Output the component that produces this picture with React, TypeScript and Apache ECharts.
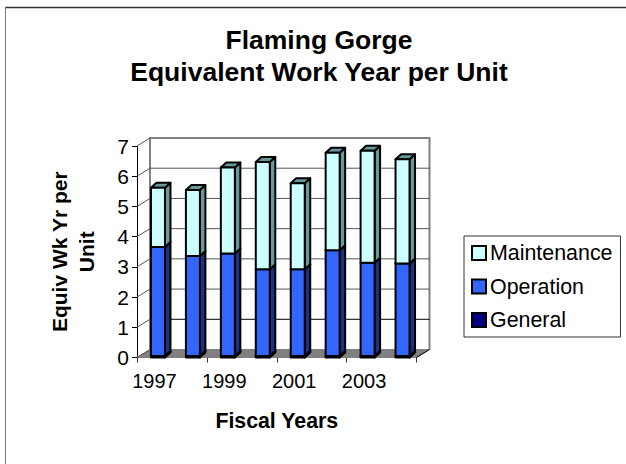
import React, { useEffect, useRef } from "react";
import * as echarts from "echarts";

const categories = ["1997", "1998", "1999", "2000", "2001", "2002", "2003", "2004"];
const general = [0.05, 0.05, 0.05, 0.05, 0.05, 0.05, 0.05, 0.05];
const operation = [3.61, 3.31, 3.39, 2.87, 2.87, 3.5, 3.09, 3.06];
const maintenance = [1.96, 2.18, 2.85, 3.55, 2.85, 3.23, 3.7, 3.45];
const yTicks = [0, 1, 2, 3, 4, 5, 6, 7];

const colors = {
  General: ["#000080", "#00004d", "#000066"],
  Operation: ["#3366FF", "#1a3380", "#1a3380"],
  Maintenance: ["#CCFFFF", "#669999", "#669999"],
};
const DX = 13, DY = -8, BAR_DX = 5.5, BAR_DY = -5;
const FONT = "'Liberation Sans', Arial, sans-serif";

function renderBar(params: any, api: any) {
  const cat = api.value(0), lo = api.value(1), hi = api.value(2);
  const c = api.value(3) as number;
  const pal = [colors.General, colors.Operation, colors.Maintenance][c];
  const [cx, y0] = api.coord([cat, lo]);
  const [, y1] = api.coord([cat, hi]);
  const w = 14;
  const x0 = cx - w / 2 + 3.5, x1 = x0 + w;
  const border = { stroke: "#000", lineWidth: 2, lineJoin: "round" };
  const poly = (pts: number[][], fill: string) => ({ type: "polygon", shape: { points: pts }, style: { fill, ...border } });
  return {
    type: "group",
    children: [
      poly([[x1, y0], [x1 + BAR_DX, y0 + BAR_DY], [x1 + BAR_DX, y1 + BAR_DY], [x1, y1]], pal[1]),
      poly([[x0, y1], [x1, y1], [x1 + BAR_DX, y1 + BAR_DY], [x0 + BAR_DX, y1 + BAR_DY]], pal[2]),
      poly([[x0, y0], [x1, y0], [x1, y1], [x0, y1]], pal[0]),
    ],
  };
}

function renderWall(params: any, api: any) {
  const [xc, y0] = api.coord([0, 0]);
  const [, y7] = api.coord([0, 7]);
  const size = api.size([1, 0]);
  const L = xc - size[0] / 2, R = L + size[0] * 8;
  const kids: any[] = [
    { type: "polygon", shape: { points: [[L, y0], [L + DX, y0 + DY], [R + DX, y0 + DY], [R, y0]] }, style: { fill: "#808080", stroke: "#808080", lineWidth: 1 } },
    { type: "polyline", shape: { points: [[L + DX, y0 + DY], [L + DX, y7 + DY], [R + DX, y7 + DY], [R + DX, y0 + DY]] }, style: { fill: "none", stroke: "#808080", lineWidth: 2 } },
    { type: "line", shape: { x1: R, y1: y0, x2: R + DX, y2: y0 + DY }, style: { stroke: "#000", lineWidth: 1 } },
  ];
  yTicks.forEach((t) => {
    const [, y] = api.coord([0, t]);
    if (t > 0 && t < 7) kids.push({ type: "line", shape: { x1: L + DX, y1: y + DY, x2: R + DX, y2: y + DY }, style: { stroke: t === 1 ? "#000" : "#555", lineWidth: 1 } });
    kids.push({ type: "line", shape: { x1: L, y1: y, x2: L + DX, y2: y + DY }, style: { stroke: "#555", lineWidth: 1 } });
  });
  return { type: "group", children: kids };
}

export default function App() {
  const ref = useRef<HTMLDivElement>(null);
  useEffect(() => {
    const chart = echarts.init(ref.current!, undefined, { renderer: "svg" });
    const barData: number[][] = [];
    categories.forEach((_, i) => {
      const a = general[i], b = a + operation[i], m = b + maintenance[i];
      barData.push([i, 0, a, 0], [i, a, b, 1], [i, b, m, 2]);
    });
    const swatch = (name: string) => ({ name, icon: "rect", itemStyle: { color: (colors as any)[name][0], borderColor: "#000", borderWidth: 2 } });
    chart.setOption({
      animation: false,
      backgroundColor: "#fff",
      title: {
        text: "Flaming Gorge\nEquivalent Work Year per Unit",
        left: 314, top: 19, textAlign: "center",
        textStyle: { fontFamily: FONT, fontSize: 26.5, fontWeight: "bold", color: "#000", lineHeight: 32 },
      },
      grid: { left: 137, top: 146, width: 279.5, height: 211.5 },
      xAxis: {
        type: "category", data: categories,
        axisLine: { lineStyle: { color: "#000" } },
        axisTick: { show: true, length: 5, lineStyle: { color: "#333" } },
        axisLabel: { color: "#000", fontFamily: FONT, fontSize: 20, interval: 1, margin: 13 },
        name: "Fiscal Years", nameLocation: "middle", nameGap: 53,
        nameTextStyle: { fontFamily: FONT, fontSize: 21.3, fontWeight: "bold", color: "#000" },
      },
      yAxis: {
        type: "value", min: 0, max: 7, interval: 1,
        splitLine: { show: false },
        axisLine: { show: true, lineStyle: { color: "#000" } },
        axisTick: { show: true, length: 5, lineStyle: { color: "#000" } },
        axisLabel: { color: "#000", fontFamily: FONT, fontSize: 21, margin: 8 },
        name: "Equiv Wk Yr per\nUnit", nameLocation: "middle", nameGap: 37, nameRotate: 90,
        nameTextStyle: { fontFamily: FONT, fontSize: 21, fontWeight: "bold", color: "#000", lineHeight: 27 },
      },
      legend: {
        orient: "vertical", left: 464, top: 236, itemWidth: 14, itemHeight: 14, itemGap: 12.5,
        padding: [6.5, 8, 6.5, 7], backgroundColor: "#fff", borderColor: "#333", borderWidth: 1,
        textStyle: { fontFamily: FONT, fontSize: 21.4, color: "#000", padding: [0, 0, 0, -1] },
        data: ["Maintenance", "Operation", "General"].map(swatch),
      },
      series: [
        { type: "custom", name: "wall", z: 1, silent: true, renderItem: renderWall, data: [[0]], encode: { x: 0, y: 0 }, clip: false, coordinateSystem: "cartesian2d" },
        { type: "custom", name: "General", z: 3, renderItem: renderBar, data: barData.filter((d) => d[3] === 0), encode: { x: 0, y: 2 }, itemStyle: { color: colors.General[0] } },
        { type: "custom", name: "Operation", z: 3, renderItem: renderBar, data: barData.filter((d) => d[3] === 1), encode: { x: 0, y: 2 }, itemStyle: { color: colors.Operation[0] } },
        { type: "custom", name: "Maintenance", z: 3, renderItem: renderBar, data: barData.filter((d) => d[3] === 2), encode: { x: 0, y: 2 }, itemStyle: { color: colors.Maintenance[0] } },
      ],
      graphic: [
        { type: "line", silent: true, shape: { x1: 5, y1: 7.5, x2: 626, y2: 7.5 }, style: { stroke: "#333", lineWidth: 1.3 } },
        { type: "line", silent: true, shape: { x1: 5.5, y1: 7, x2: 5.5, y2: 464 }, style: { stroke: "#777", lineWidth: 1 } },
      ],
    });
    return () => chart.dispose();
  }, []);
  return <div ref={ref} style={{ position: "fixed", left: 0, top: 0, width: 626, height: 464 }} />;
}
